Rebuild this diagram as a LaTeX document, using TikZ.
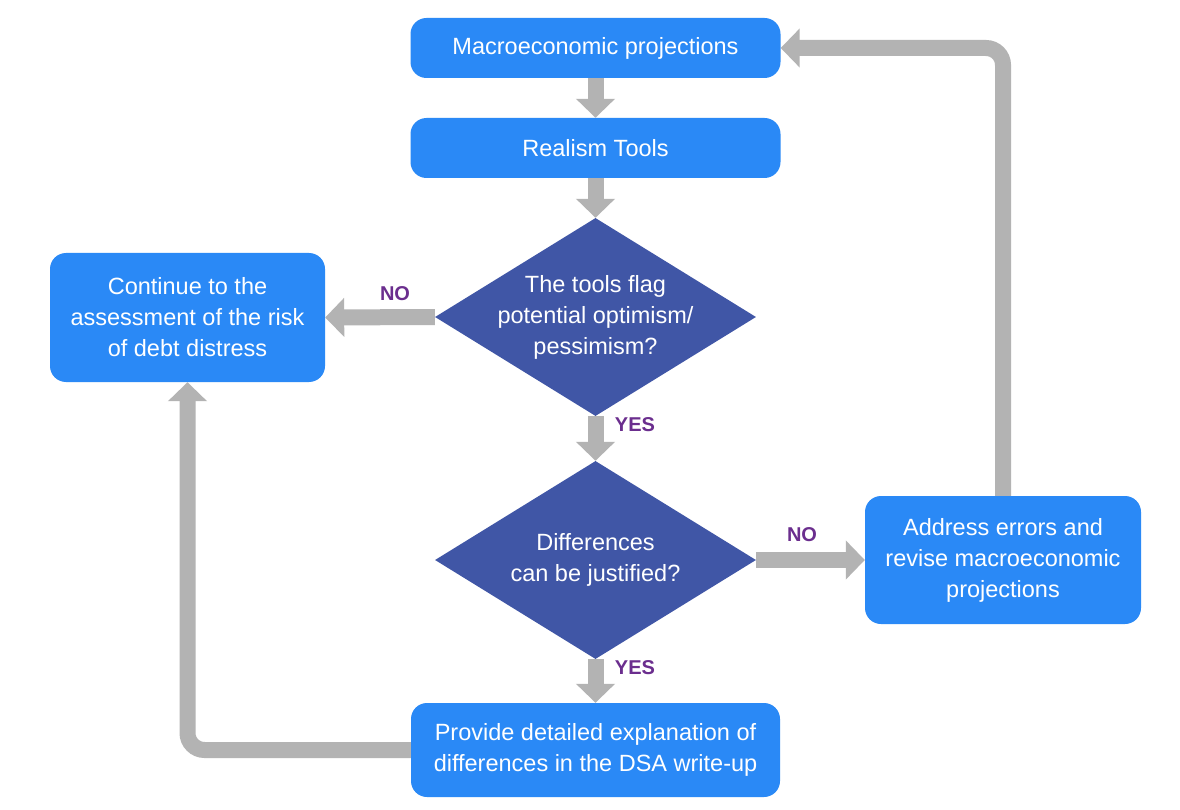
\documentclass[tikz,border=0pt]{standalone}
\usepackage{fontspec}
\setmainfont{Liberation Sans}
\usetikzlibrary{shapes.geometric,arrows.meta,backgrounds}
\definecolor{boxblue}{RGB}{42,137,246}
\definecolor{diablue}{RGB}{64,86,166}
\definecolor{arrgray}{RGB}{179,179,179}
\definecolor{lblpurple}{RGB}{107,46,142}
\tikzset{
  procbox/.style={draw=none, fill=boxblue, rounded corners=16pt, text=white,
    align=center, inner sep=0pt,
    font=\fontsize{23.5}{31}\selectfont},
  decbox/.style={draw=none, fill=diablue, diamond, inner sep=0pt,
    minimum width=321pt, minimum height=198pt},
  dectext/.style={text=white, align=center, inner sep=0pt,
    font=\fontsize{23.5}{31}\selectfont},
  flow/.style={draw=arrgray, line width=16pt,
    -{Triangle[length=19pt,width=38pt]}},
  answer/.style={text=lblpurple, inner sep=0pt,
    font=\fontsize{20}{24}\selectfont\bfseries},
}
\begin{document}
\begin{tikzpicture}[x=1pt,y=-1pt]
\useasboundingbox (0,0) rectangle (1180,810);

\node[procbox, minimum width=370pt, minimum height=60pt] (mp) at (595.5,48) {Macroeconomic projections};
\node[procbox, minimum width=370pt, minimum height=60pt] (rt) at (595.5,148) {Realism Tools};
\node[decbox, label={[dectext]center:{The tools flag\\potential optimism/\\pessimism?}}] (d1) at (595.5,317) {};
\node[procbox, minimum width=275pt, minimum height=129pt] (cont) at (187.5,317.5) {Continue to the\\assessment of the risk\\of debt distress};
\node[decbox, label={[dectext]center:{Differences\\can be justified?}}] (d2) at (595.5,560) {};
\node[procbox, minimum width=276pt, minimum height=128pt] (addr) at (1003,560) {Address errors and\\revise macroeconomic\\projections};
\node[procbox, minimum width=369pt, minimum height=94pt] (prov) at (595.5,750) {Provide detailed explanation of\\differences in the DSA write-up};

\node[answer] (no1) at (395,294) {NO};
\node[answer] (yes1) at (635,425) {YES};
\node[answer] (no2) at (802,535) {NO};
\node[answer] (yes2) at (635,668) {YES};

\begin{scope}[on background layer]
\fill[white] (0,0) rectangle (1180,810);
\draw[flow] (mp.south) -- (rt.north);
\draw[flow] (rt.south) -- (d1.north);
\draw[flow] (d1.west) -- (cont.east);
\draw[flow] (d1.south) -- (d2.north);
\draw[flow] (d2.east) -- (addr.west);
\draw[flow] (d2.south) -- (prov.north);
\draw[flow, rounded corners=17pt] (prov.west) -| (cont.south);
\draw[flow, rounded corners=17pt] (addr.north) |- (mp.east);
\end{scope}
\end{tikzpicture}
\end{document}
